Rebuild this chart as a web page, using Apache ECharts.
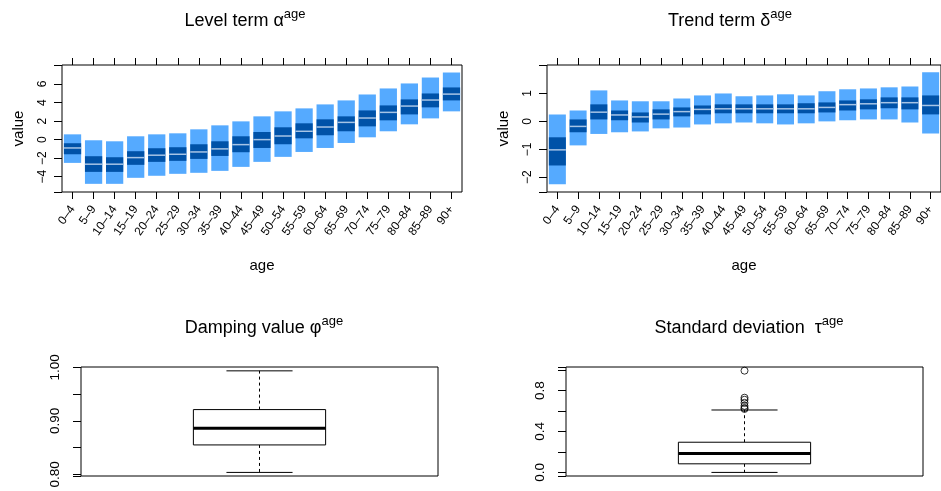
<!DOCTYPE html>
<html>
<head>
<meta charset="utf-8">
<script src="https://cdn.jsdelivr.net/npm/echarts@6/dist/echarts.min.js"></script>
<style>
  html, body { margin: 0; padding: 0; background: #fff; }
  #chart { width: 941px; height: 491px; }
</style>
</head>
<body>
<div id="chart"></div>
<script>
// Age groups shared by the two interval panels
const ages = ['0–4', '5–9', '10–14', '15–19', '20–24', '25–29', '30–34', '35–39', '40–44',
  '45–49', '50–54', '55–59', '60–64', '65–69', '70–74', '75–79', '80–84', '85–89', '90+'];

// Level term alpha: 95% / 50% intervals and median per age group
const levelLo95 = [-2.51, -4.77, -4.77, -4.12, -3.90, -3.69, -3.58, -3.37, -2.94, -2.40, -1.86, -1.33, -0.90, -0.36, 0.25, 0.90, 1.65, 2.29, 3.05];
const levelLo50 = [-1.58, -3.48, -3.48, -2.72, -2.40, -2.29, -2.08, -1.76, -1.36, -0.90, -0.50, 0.14, 0.47, 0.90, 1.43, 2.08, 2.72, 3.48, 4.23];
const levelMed  = [-0.90, -2.65, -2.65, -1.94, -1.68, -1.58, -1.33, -1.00, -0.54, 0.00, 0.39, 0.90, 1.36, 1.86, 2.33, 2.94, 3.62, 4.27, 4.91];
const levelHi50 = [-0.39, -1.79, -1.90, -1.25, -0.93, -0.82, -0.50, -0.18, 0.36, 0.82, 1.33, 1.76, 2.19, 2.51, 3.15, 3.69, 4.34, 4.98, 5.63];
const levelHi95 = [0.57, -0.07, -0.18, 0.36, 0.57, 0.68, 1.11, 1.54, 1.97, 2.51, 3.05, 3.37, 3.80, 4.23, 4.87, 5.52, 6.06, 6.70, 7.24];

// Trend term delta
const trendLo95 = [-2.25, -0.86, -0.45, -0.39, -0.36, -0.25, -0.22, -0.11, -0.07, -0.04, -0.07, -0.11, -0.07, 0.00, 0.04, 0.07, 0.07, -0.04, -0.43];
const trendLo50 = [-1.58, -0.39, 0.07, 0.04, -0.04, 0.07, 0.18, 0.25, 0.29, 0.29, 0.29, 0.29, 0.29, 0.32, 0.39, 0.43, 0.47, 0.43, 0.25];
const trendMed  = [-1.02, -0.18, 0.33, 0.23, 0.16, 0.26, 0.35, 0.43, 0.45, 0.45, 0.45, 0.45, 0.45, 0.50, 0.60, 0.63, 0.67, 0.67, 0.57];
const trendHi50 = [-0.57, 0.07, 0.61, 0.39, 0.32, 0.43, 0.50, 0.57, 0.61, 0.61, 0.61, 0.61, 0.65, 0.68, 0.75, 0.79, 0.86, 0.86, 0.93];
const trendHi95 = [0.25, 0.39, 1.11, 0.75, 0.72, 0.72, 0.82, 0.93, 1.00, 0.90, 0.93, 0.97, 0.93, 1.08, 1.15, 1.18, 1.22, 1.25, 1.76];

// Box summaries: [lower whisker, Q1, median, Q3, upper whisker]
const dampingBox = [0.8037, 0.855, 0.886, 0.921, 0.9933];
const sdBox = [0.0, 0.084, 0.184, 0.295, 0.61];
const sdOutliers = [0.994, 0.73, 0.71, 0.68, 0.65, 0.63, 0.62];

// Value-axis ranges of the two interval panels
const levelRange = [-5.65, 8.05];
const trendRange = [-2.53, 2.02];

const FONT = 'Liberation Sans, Arial, Helvetica, sans-serif';
const LIGHT = '#55aaff';
const DARK = '#0052a8';
const MEDLINE = '#a6c4e6';
const MINUS = '\u2212';
const TICK_LEN = 7;

const fmtInt = (lo, hi) => v => {
  if (Math.abs(v - Math.round(v)) > 1e-6 || v < lo - 1e-6 || v > hi + 1e-6) return '';
  const r = Math.round(v);
  return r < 0 ? MINUS + Math.abs(r) : String(r);
};

// Interval bar: light 95% band, dark 50% band, thin median line
function intervalRender(params, api) {
  const i = api.value(0);
  const w = api.size([1, 0])[0] * 0.82;
  const cx = api.coord([i, 0])[0];
  const y = v => api.coord([i, v])[1];
  const lo95 = y(api.value(1)), lo50 = y(api.value(2)), md = y(api.value(3)),
        hi50 = y(api.value(4)), hi95 = y(api.value(5));
  return {
    type: 'group',
    children: [
      { type: 'rect', shape: { x: cx - w / 2, y: hi95, width: w, height: lo95 - hi95 }, style: { fill: LIGHT } },
      { type: 'rect', shape: { x: cx - w / 2, y: hi50, width: w, height: lo50 - hi50 }, style: { fill: DARK } },
      { type: 'line', shape: { x1: cx - w / 2, y1: md, x2: cx + w / 2, y2: md }, style: { stroke: MEDLINE, lineWidth: 1.5 } }
    ]
  };
}

function boxRender(params, api) {
  const x = api.value(0);
  const cx = api.coord([x, 0])[0];
  const bw = api.size([0.4, 0])[0];
  const cw = api.size([0.2, 0])[0];
  const y = v => api.coord([x, v])[1];
  const lo = y(api.value(1)), q1 = y(api.value(2)), md = y(api.value(3)),
        q3 = y(api.value(4)), hi = y(api.value(5));
  const dash = { stroke: '#000', lineWidth: 1, lineDash: [3, 3] };
  const solid = { stroke: '#000', lineWidth: 1 };
  return {
    type: 'group',
    children: [
      { type: 'line', shape: { x1: cx, y1: q3, x2: cx, y2: hi }, style: dash },
      { type: 'line', shape: { x1: cx, y1: q1, x2: cx, y2: lo }, style: dash },
      { type: 'line', shape: { x1: cx - cw / 2, y1: hi, x2: cx + cw / 2, y2: hi }, style: solid },
      { type: 'line', shape: { x1: cx - cw / 2, y1: lo, x2: cx + cw / 2, y2: lo }, style: solid },
      { type: 'rect', shape: { x: cx - bw / 2, y: q3, width: bw, height: q1 - q3 }, style: { fill: '#fff', stroke: '#000', lineWidth: 1 } },
      { type: 'line', shape: { x1: cx - bw / 2, y1: md, x2: cx + bw / 2, y2: md }, style: { stroke: '#000', lineWidth: 3 } }
    ]
  };
}

const titleRich = {
  base: { fontSize: 18, fontWeight: 'normal', fontFamily: FONT, color: '#000', verticalAlign: 'bottom', lineHeight: 22 },
  sup: { fontSize: 13, fontWeight: 'normal', fontFamily: FONT, color: '#000', verticalAlign: 'bottom', lineHeight: 13, padding: [0, 0, 9, 0] }
};
const mkTitle = (text, sup, x, top) => ({
  text: '{base|' + text + '}{sup|' + sup + '}',
  left: x, top: top, textAlign: 'center',
  textStyle: { fontWeight: 'normal', rich: titleRich }
});

const catX = grid => ({
  type: 'category', gridIndex: grid, data: ages, position: 'bottom',
  boundaryGap: true,
  axisLine: { show: false, onZero: false },
  axisTick: { show: true, interval: 0, alignWithLabel: true, inside: false, length: TICK_LEN, lineStyle: { color: '#000' } },
  axisLabel: { show: true, rotate: 55, fontSize: 12, fontFamily: FONT, color: '#000', margin: 15, interval: 0 },
  name: 'age',
  nameLocation: 'middle', nameGap: 66,
  nameTextStyle: { fontSize: 15, fontFamily: FONT, color: '#000' },
  splitLine: { show: false }
});

// Thin strip above each interval panel carrying the mirrored age ticks
const stripX = grid => ({
  type: 'category', gridIndex: grid, data: ages, position: 'bottom',
  boundaryGap: true,
  axisLine: { show: false, onZero: false },
  axisTick: { show: true, interval: 0, alignWithLabel: true, inside: true, length: TICK_LEN, lineStyle: { color: '#000' } },
  axisLabel: { show: false },
  splitLine: { show: false }
});
const stripY = grid => ({
  type: 'value', gridIndex: grid, min: 0, max: 1, show: false,
  splitLine: { show: false }
});

const valY = (grid, range, split, fmt, fontSize, margin, name) => ({
  type: 'value', gridIndex: grid, min: range[0], max: range[1], splitNumber: split,
  axisLine: { show: false, onZero: false },
  axisTick: { show: true, inside: false, length: 8, lineStyle: { color: '#000' } },
  axisLabel: { show: true, rotate: 90, fontSize: fontSize, fontFamily: FONT, color: '#000', margin: margin, formatter: fmt,
    showMinLabel: true, showMaxLabel: true },
  splitLine: { show: false },
  name: name || '', nameLocation: 'middle', nameGap: 36, nameRotate: 90,
  nameTextStyle: { fontSize: 15, fontFamily: FONT, color: '#000' }
});

const chart = echarts.init(document.getElementById('chart'), null, { renderer: 'canvas' });

chart.setOption({
  animation: false,
  backgroundColor: '#fff',
  title: [
    mkTitle('Level term α', 'age', 240, 3),
    mkTitle('Trend term δ', 'age', 725, 3),
    mkTitle('Damping value φ', 'age', 259, 310),
    mkTitle('Standard deviation  τ', 'age', 744, 310)
  ],
  grid: [
    { left: 62, top: 65, width: 400, height: 127, show: true, borderColor: '#000', borderWidth: 1, backgroundColor: 'transparent' },
    { left: 547, top: 65, width: 400, height: 127, show: true, borderColor: '#000', borderWidth: 1, backgroundColor: 'transparent' },
    { left: 81, top: 367, width: 357, height: 109, show: true, borderColor: '#000', borderWidth: 1, backgroundColor: 'transparent' },
    { left: 566, top: 367, width: 357, height: 109, show: true, borderColor: '#000', borderWidth: 1, backgroundColor: 'transparent' },
    { left: 62, top: 58, width: 400, height: TICK_LEN, show: false },
    { left: 547, top: 58, width: 400, height: TICK_LEN, show: false }
  ],
  xAxis: [
    catX(0),
    catX(1),
    { type: 'value', gridIndex: 2, min: 0.46, max: 1.54, show: false },
    { type: 'value', gridIndex: 3, min: 0.46, max: 1.54, show: false },
    stripX(4),
    stripX(5)
  ],
  yAxis: [
    valY(0, levelRange, 7, fmtInt(-4, 6), 12, 13, 'value'),
    valY(1, trendRange, 4, fmtInt(-2, 1), 12, 13, 'value'),
    valY(2, [0.797, 1.0005], 4, v => {
      const h = Math.round(v * 100);
      return (Math.abs(v * 100 - h) < 1e-6 && h % 10 === 0) ? (h / 100).toFixed(2) : '';
    }, 13.5, 19),
    valY(3, [-0.035, 1.03], 5, v => {
      const t = Math.round(v * 10);
      return (Math.abs(v * 10 - t) < 1e-6 && t % 4 === 0) ? (t / 10).toFixed(1) : '';
    }, 13.5, 19),
    stripY(4),
    stripY(5)
  ],
  series: [
    {
      type: 'custom', xAxisIndex: 0, yAxisIndex: 0, renderItem: intervalRender,
      encode: { x: 0, y: [1, 2, 3, 4, 5] },
      data: ages.map((a, i) => [i, levelLo95[i], levelLo50[i], levelMed[i], levelHi50[i], levelHi95[i]])
    },
    {
      type: 'custom', xAxisIndex: 1, yAxisIndex: 1, renderItem: intervalRender,
      encode: { x: 0, y: [1, 2, 3, 4, 5] },
      data: ages.map((a, i) => [i, trendLo95[i], trendLo50[i], trendMed[i], trendHi50[i], trendHi95[i]])
    },
    {
      // age groups placed on the tick strips; the strips draw only their axis ticks
      type: 'custom', xAxisIndex: 4, yAxisIndex: 4, renderItem: () => null, silent: true,
      encode: { x: 0, y: 1 },
      data: ages.map((a, i) => [i, 0.5])
    },
    {
      type: 'custom', xAxisIndex: 5, yAxisIndex: 5, renderItem: () => null, silent: true,
      encode: { x: 0, y: 1 },
      data: ages.map((a, i) => [i, 0.5])
    },
    {
      type: 'custom', xAxisIndex: 2, yAxisIndex: 2, renderItem: boxRender,
      encode: { x: 0, y: [1, 2, 3, 4, 5] },
      data: [[1].concat(dampingBox)]
    },
    {
      type: 'custom', xAxisIndex: 3, yAxisIndex: 3, renderItem: boxRender,
      encode: { x: 0, y: [1, 2, 3, 4, 5] },
      data: [[1].concat(sdBox)]
    },
    {
      type: 'scatter', xAxisIndex: 3, yAxisIndex: 3,
      symbol: 'circle', symbolSize: 7,
      itemStyle: { color: 'transparent', borderColor: '#000', borderWidth: 1 },
      data: sdOutliers.map(v => [1, v])
    }
  ]
});
</script>
</body>
</html>
